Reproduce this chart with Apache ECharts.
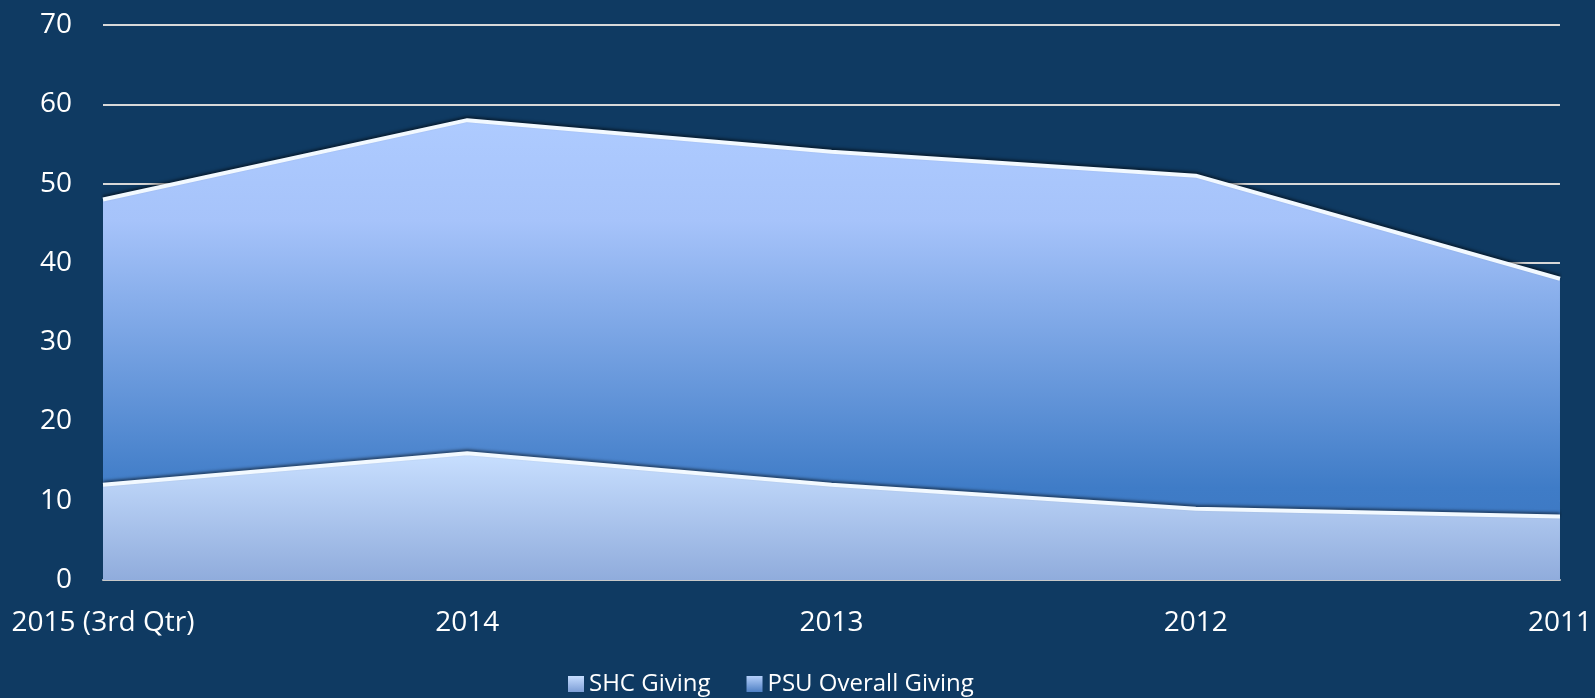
<html>
<head>
    <meta http-equiv="Content-Type" content="text/html; charset=utf-8" />
    <title>SHC Giving vs PSU Overall Giving</title>
    <script src="https://cdn.jsdelivr.net/npm/echarts@6/dist/echarts.min.js"></script>
    <style>
        html, body { margin: 0; padding: 0; background: #0f3a62; }
    </style>
</head>
<body>
    <div id="main" style="width:1595px;height:698px"></div>

    <script type="text/javascript">
        var years = ['2015 (3rd Qtr)', '2014', '2013', '2012', '2011'];
        var shcGiving = [12, 16, 12, 9, 8];
        var psuGiving = [48, 58, 54, 51, 38];
        var yTicks = [0, 10, 20, 30, 40, 50, 60, 70];

        var font = '"Open Sans", "Noto Sans", sans-serif';

        function grad(stops) {
            return new echarts.graphic.LinearGradient(0, 0, 0, 1, stops);
        }

        // bright bevel edge on top of each area, dark rim just above it
        var edge = {
            color: '#f2f9ff',
            width: 4,
            shadowColor: 'rgba(0,0,0,0.5)',
            shadowBlur: 3,
            shadowOffsetY: -2
        };

        var option = {
            backgroundColor: '#0f3a62',
            animation: false,
            grid: { left: 103, right: 33, top: 25, bottom: 118 },
            legend: {
                left: 563,
                top: 667,
                icon: 'rect',
                itemWidth: 16,
                itemHeight: 16,
                itemGap: 36,
                textStyle: { color: '#ffffff', fontSize: 24, fontFamily: font },
                data: ['SHC Giving', 'PSU Overall Giving']
            },
            xAxis: {
                type: 'category',
                boundaryGap: false,
                data: years,
                axisTick: { show: false },
                axisLine: { lineStyle: { color: '#c8c8c8', width: 2 } },
                axisLabel: { color: '#ffffff', fontSize: 28, fontFamily: font, margin: 29 }
            },
            yAxis: {
                type: 'value',
                min: yTicks[0],
                max: yTicks[yTicks.length - 1],
                interval: 10,
                axisLine: { show: false },
                axisTick: { show: false },
                axisLabel: { color: '#ffffff', fontSize: 28, fontFamily: font, margin: 31 },
                splitLine: { lineStyle: { color: '#d8d8d8', width: 2 } }
            },
            series: [
                {
                    name: 'PSU Overall Giving',
                    type: 'line',
                    data: psuGiving,
                    z: 2,
                    showSymbol: false,
                    symbol: 'none',
                    lineStyle: edge,
                    itemStyle: { color: grad([{ offset: 0, color: '#b4cffa' }, { offset: 1, color: '#4f80c4' }]) },
                    areaStyle: {
                        opacity: 1,
                        color: grad([
                            { offset: 0, color: '#aecbff' },
                            { offset: 0.22, color: '#a6c3fa' },
                            { offset: 0.8, color: '#3f7cc7' },
                            { offset: 1, color: '#3a74bf' }
                        ])
                    }
                },
                {
                    name: 'SHC Giving',
                    type: 'line',
                    data: shcGiving,
                    z: 3,
                    showSymbol: false,
                    symbol: 'none',
                    lineStyle: edge,
                    itemStyle: { color: grad([{ offset: 0, color: '#c6ddff' }, { offset: 1, color: '#7d9ed6' }]) },
                    areaStyle: {
                        opacity: 1,
                        color: grad([
                            { offset: 0, color: '#c8dfff' },
                            { offset: 1, color: '#90acdc' }
                        ])
                    }
                }
            ]
        };

        var myChart = echarts.init(document.getElementById('main'));
        myChart.setOption(option);
    </script>
</body>
</html>
